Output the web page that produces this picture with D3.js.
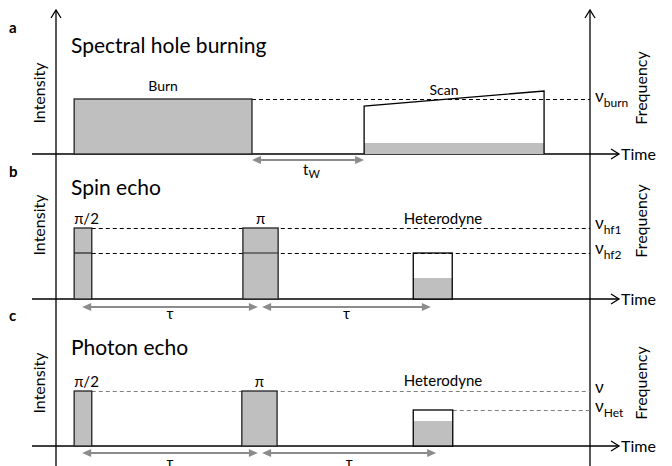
<!DOCTYPE html>
<html>
<head>
<meta charset="utf-8">
<script src="https://cdnjs.cloudflare.com/ajax/libs/d3/7.8.5/d3.min.js"></script>
<style>
  body { margin: 0; background: #fff; }
  text { font-family: Lato, "Open Sans", sans-serif; fill: #000; }
</style>
</head>
<body>
<div id="chart"></div>
<script>
// time in arbitrary units (0..100 across the plot), intensity 0..1
var panelLetters = ["a", "b", "c"],
	panelTitles = ["Spectral hole burning", "Spin echo", "Photon echo"];

var burnPulse = { label: "Burn", start: 3.4, end: 36.7, amp: 0.55 };
var scanPulse = { label: "Scan", start: 57.7, end: 91.4, ampStart: 0.48, ampEnd: 0.63, absorbed: 0.11 };
var waitTime = { label: "W", start: 36.7, end: 57.7 };

var spinPulses = [
	{ label: "π/2", start: 3.4, end: 6.7, amp: 0.71, mid: 0.46 },
	{ label: "π", start: 35.0, end: 41.6, amp: 0.71, mid: 0.46 }
];
var spinHet = { label: "Heterodyne", start: 66.9, end: 74.2, amp: 0.46, fill: 0.21 };
var spinDelays = [[4.9, 37.8], [38.6, 70.2]];
var spinFreqs = [{ name: "hf1", amp: 0.71 }, { name: "hf2", amp: 0.46 }];

var photonPulses = [
	{ label: "π/2", start: 3.4, end: 6.7, amp: 0.55 },
	{ label: "π", start: 34.8, end: 41.4, amp: 0.55 }
];
var photonHet = { label: "Heterodyne", start: 66.9, end: 74.3, amp: 0.36, fill: 0.25 };
var photonDelays = [[4.9, 37.8], [38.6, 71.2]];
var photonFreqs = [{ name: "", amp: 0.55 }, { name: "Het", amp: 0.36 }];

var width = 672, height = 466;
var grey = "#bfbfbf", arrowGrey = "#8c8c8c";

var svg = d3.select("#chart").append("svg")
	.attr("width", width)
	.attr("height", height);

var x = d3.scaleLinear().domain([0, 100]).range([56, 590]);
var baselines = [154, 299, 446];
var yScales = baselines.map(function(b) {
	return d3.scaleLinear().domain([0, 1]).range([b, b - 100]);
});

// vertical axes
[x(0), x(100)].forEach(function(px) {
	svg.append("line")
		.attr("x1", px).attr("x2", px)
		.attr("y1", 10).attr("y2", height)
		.attr("stroke", "#000").attr("stroke-width", 1.3);
	svg.append("path")
		.attr("d", "M" + (px - 5) + ",18L" + px + ",10L" + (px + 5) + ",18")
		.attr("fill", "none").attr("stroke", "#000").attr("stroke-width", 1.3);
});

// time axes
baselines.forEach(function(b, i) {
	svg.append("line")
		.attr("x1", 32).attr("x2", 619)
		.attr("y1", b).attr("y2", b)
		.attr("stroke", "#000").attr("stroke-width", 1.3);
	svg.append("path")
		.attr("d", "M611," + (b - 5) + "L619," + b + "L611," + (b + 5))
		.attr("fill", "none").attr("stroke", "#000").attr("stroke-width", 1.3);
	svg.append("text")
		.attr("x", 621).attr("y", b + 6)
		.attr("font-size", 16)
		.text("Time");

	svg.append("text")
		.attr("x", 9).attr("y", [33, 177, 321][i])
		.attr("font-size", 15).attr("font-weight", "bold")
		.text(panelLetters[i]);
	svg.append("text")
		.attr("x", 71).attr("y", [53, 195, 355][i])
		.attr("font-size", 21)
		.text(panelTitles[i]);

	var yi = [93, 225, 383][i];
	svg.append("text")
		.attr("transform", "translate(45," + yi + ") rotate(-90)")
		.attr("text-anchor", "middle")
		.attr("font-size", 16)
		.text("Intensity");
	var yf = [88, 221, 383][i];
	svg.append("text")
		.attr("transform", "translate(647," + yf + ") rotate(-90)")
		.attr("text-anchor", "middle")
		.attr("font-size", 16)
		.text("Frequency");
});

function dashed(x1, x2, yy, color) {
	svg.append("line")
		.attr("x1", x1).attr("x2", x2)
		.attr("y1", yy + 0.5).attr("y2", yy + 0.5)
		.attr("stroke", color || "#000")
		.attr("stroke-width", 1)
		.attr("stroke-dasharray", "4,3");
}

function greyArrow(x1, x2, yy) {
	svg.append("line")
		.attr("x1", x1 + 6).attr("x2", x2 - 6)
		.attr("y1", yy).attr("y2", yy)
		.attr("stroke", arrowGrey).attr("stroke-width", 2);
	svg.append("path")
		.attr("d", "M" + x1 + "," + yy + "L" + (x1 + 9) + "," + (yy - 4) + "L" + (x1 + 9) + "," + (yy + 4) + "Z")
		.attr("fill", arrowGrey);
	svg.append("path")
		.attr("d", "M" + x2 + "," + yy + "L" + (x2 - 9) + "," + (yy - 4) + "L" + (x2 - 9) + "," + (yy + 4) + "Z")
		.attr("fill", arrowGrey);
}

function freqLabel(yy, sub) {
	var t = svg.append("text")
		.attr("x", 595).attr("y", yy)
		.attr("font-size", 17);
	t.append("tspan").text("ν");
	if (sub) {
		t.append("tspan")
			.attr("dy", 5).attr("font-size", 12)
			.text(sub);
	}
}

// ---------- panel a ----------
var ya = yScales[0];
dashed(x(burnPulse.end), x(100), ya(burnPulse.amp));
svg.append("rect")
	.attr("x", x(burnPulse.start))
	.attr("y", ya(burnPulse.amp))
	.attr("width", x(burnPulse.end) - x(burnPulse.start))
	.attr("height", ya(0) - ya(burnPulse.amp))
	.attr("fill", grey).attr("stroke", "#222").attr("stroke-width", 1.3);
svg.append("text")
	.attr("x", (x(burnPulse.start) + x(burnPulse.end)) / 2).attr("y", 91)
	.attr("text-anchor", "middle").attr("font-size", 14)
	.text(burnPulse.label);

svg.append("rect")
	.attr("x", x(scanPulse.start))
	.attr("y", ya(scanPulse.absorbed))
	.attr("width", x(scanPulse.end) - x(scanPulse.start))
	.attr("height", ya(0) - ya(scanPulse.absorbed))
	.attr("fill", grey);
svg.append("path")
	.attr("d", d3.line()([
		[x(scanPulse.start), ya(0)],
		[x(scanPulse.start), ya(scanPulse.ampStart)],
		[x(scanPulse.end), ya(scanPulse.ampEnd)],
		[x(scanPulse.end), ya(0)]
	]))
	.attr("fill", "none").attr("stroke", "#000").attr("stroke-width", 1.3);
svg.append("text")
	.attr("x", 444).attr("y", 95)
	.attr("text-anchor", "middle").attr("font-size", 14)
	.text(scanPulse.label);
freqLabel(ya(burnPulse.amp) + 3, "burn");

greyArrow(x(waitTime.start), x(waitTime.end), 160);
var tw = svg.append("text")
	.attr("x", 303).attr("y", 175)
	.attr("font-size", 15);
tw.append("tspan").text("t");
tw.append("tspan").attr("dy", 3).attr("font-size", 11).text(waitTime.label);

// ---------- panel b ----------
var yb = yScales[1];
spinFreqs.forEach(function(f) {
	dashed(x(spinPulses[0].end), x(100), yb(f.amp));
	freqLabel(yb(f.amp) + 1, f.name);
});
spinPulses.forEach(function(p, i) {
	svg.append("rect")
		.attr("x", x(p.start)).attr("y", yb(p.amp))
		.attr("width", x(p.end) - x(p.start))
		.attr("height", yb(0) - yb(p.amp))
		.attr("fill", grey).attr("stroke", "#222").attr("stroke-width", 1.3);
	svg.append("line")
		.attr("x1", x(p.start)).attr("x2", x(p.end))
		.attr("y1", yb(p.mid)).attr("y2", yb(p.mid))
		.attr("stroke", "#222").attr("stroke-width", 1.2);
	svg.append("text")
		.attr("x", i === 0 ? x(p.start) : (x(p.start) + x(p.end)) / 2)
		.attr("y", yb(p.amp) - 4)
		.attr("text-anchor", i === 0 ? "start" : "middle")
		.attr("font-size", 15)
		.text(p.label);
});
svg.append("rect")
	.attr("x", x(spinHet.start)).attr("y", yb(spinHet.fill))
	.attr("width", x(spinHet.end) - x(spinHet.start))
	.attr("height", yb(0) - yb(spinHet.fill))
	.attr("fill", grey);
svg.append("rect")
	.attr("x", x(spinHet.start)).attr("y", yb(spinHet.amp))
	.attr("width", x(spinHet.end) - x(spinHet.start))
	.attr("height", yb(0) - yb(spinHet.amp))
	.attr("fill", "none").attr("stroke", "#000").attr("stroke-width", 1.3);
svg.append("text")
	.attr("x", 443).attr("y", 224)
	.attr("text-anchor", "middle").attr("font-size", 15)
	.text(spinHet.label);
spinDelays.forEach(function(d) {
	greyArrow(x(d[0]), x(d[1]), 307);
	svg.append("text")
		.attr("x", (x(d[0]) + x(d[1])) / 2).attr("y", 319)
		.attr("text-anchor", "middle").attr("font-size", 15)
		.text("τ");
});

// ---------- panel c ----------
var yc = yScales[2];
dashed(x(photonPulses[0].end), x(100), yc(photonFreqs[0].amp), "#7f7f7f");
dashed(x(photonHet.end), x(100), yc(photonFreqs[1].amp), "#7f7f7f");
freqLabel(yc(photonFreqs[0].amp) + 2, photonFreqs[0].name);
freqLabel(yc(photonFreqs[1].amp) + 2, photonFreqs[1].name);
photonPulses.forEach(function(p, i) {
	svg.append("rect")
		.attr("x", x(p.start)).attr("y", yc(p.amp))
		.attr("width", x(p.end) - x(p.start))
		.attr("height", yc(0) - yc(p.amp))
		.attr("fill", grey).attr("stroke", "#222").attr("stroke-width", 1.3);
	svg.append("text")
		.attr("x", i === 0 ? x(p.start) : (x(p.start) + x(p.end)) / 2)
		.attr("y", yc(p.amp) - 4)
		.attr("text-anchor", i === 0 ? "start" : "middle")
		.attr("font-size", 15)
		.text(p.label);
});
svg.append("rect")
	.attr("x", x(photonHet.start)).attr("y", yc(photonHet.fill))
	.attr("width", x(photonHet.end) - x(photonHet.start))
	.attr("height", yc(0) - yc(photonHet.fill))
	.attr("fill", grey);
svg.append("rect")
	.attr("x", x(photonHet.start)).attr("y", yc(photonHet.amp))
	.attr("width", x(photonHet.end) - x(photonHet.start))
	.attr("height", yc(0) - yc(photonHet.amp))
	.attr("fill", "none").attr("stroke", "#000").attr("stroke-width", 1.3);
svg.append("text")
	.attr("x", 443).attr("y", 386)
	.attr("text-anchor", "middle").attr("font-size", 15)
	.text(photonHet.label);
photonDelays.forEach(function(d) {
	greyArrow(x(d[0]), x(d[1]), 453);
	svg.append("text")
		.attr("x", (x(d[0]) + x(d[1])) / 2).attr("y", 468)
		.attr("text-anchor", "middle").attr("font-size", 15)
		.text("τ");
});
</script>
</body>
</html>
